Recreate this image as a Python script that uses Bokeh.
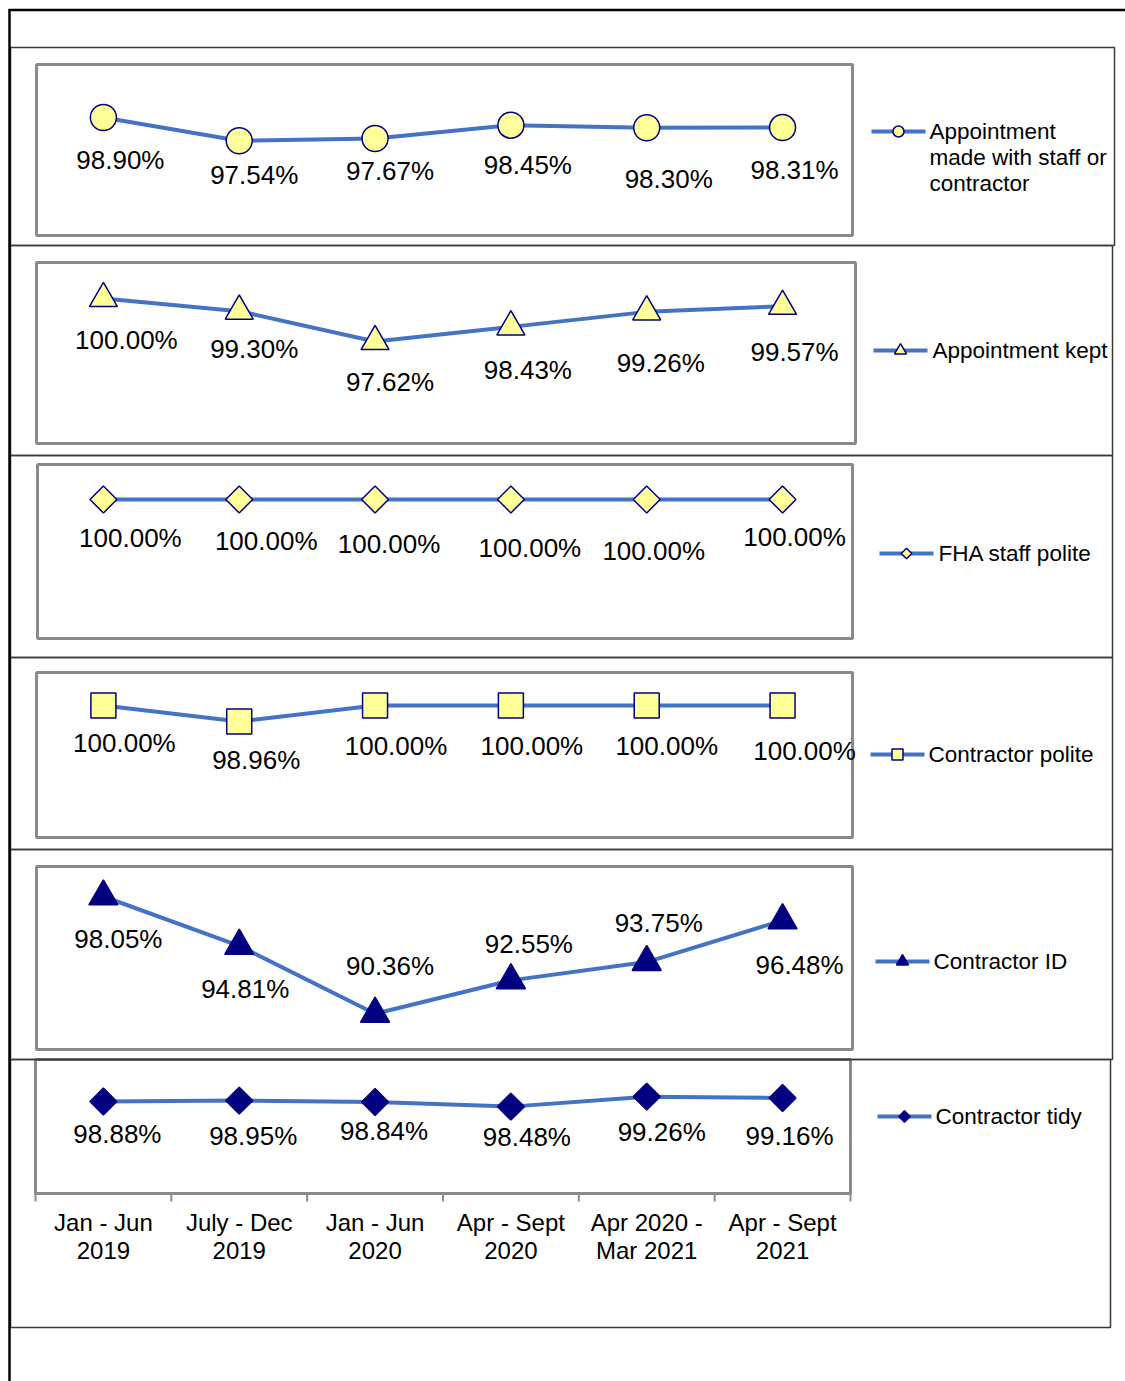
import math
from bokeh.plotting import figure
from bokeh.models import Range1d
from bokeh.embed import file_html
from bokeh.resources import INLINE
from bokeh.core.properties import value

# ---------------- data ----------------
CATEGORIES = ["Jan - Jun\n2019", "July - Dec\n2019", "Jan - Jun\n2020",
              "Apr - Sept\n2020", "Apr 2020 -\nMar 2021", "Apr - Sept\n2021"]

APPOINTMENT_MADE = [98.90, 97.54, 97.67, 98.45, 98.30, 98.31]
APPOINTMENT_KEPT = [100.00, 99.30, 97.62, 98.43, 99.26, 99.57]
FHA_STAFF_POLITE = [100.00, 100.00, 100.00, 100.00, 100.00, 100.00]
CONTRACTOR_POLITE = [100.00, 98.96, 100.00, 100.00, 100.00, 100.00]
CONTRACTOR_ID = [98.05, 94.81, 90.36, 92.55, 93.75, 96.48]
CONTRACTOR_TIDY = [98.88, 98.95, 98.84, 98.48, 99.26, 99.16]

SERIES_NAMES = ["Appointment made with staff or contractor", "Appointment kept",
                "FHA staff polite", "Contractor polite", "Contractor ID", "Contractor tidy"]

# ---------------- styles / layout ----------------
FONT = value("Liberation Sans")
BLUE = "#4472C4"
NAVY = "#000080"
YELLOW = "#FFFF99"
BOX_GREY = "#8a8a8a"
FRAME = "#3a3a3a"

PAGE_L, PAGE_R, PAGE_T, PAGE_B = 0, 1125, 0, 1381
W, H = PAGE_R - PAGE_L, PAGE_B - PAGE_T

CAT_X0 = 102.9      # pixel centre of first category
CAT_DX = 135.83     # pixel spacing of categories

PANELS = [
    dict(values=APPOINTMENT_MADE, legend_lines=["Appointment", "made with staff or", "contractor"],
         marker="circle", size=26, angle=0, fill=YELLOW, lsize=11, langle=0,
         calib=(98.90, 117, 17.1), chart=(10, 1114, 47, 245), box=(36, 852, 64, 235),
         leg=(871, 131, 929),
         dx=[17, 15, 15, 17, 22, 12], dy=[42, 34, 32, 40, 51, 42]),
    dict(values=APPOINTMENT_KEPT, legend_lines=["Appointment kept"],
         marker="triangle", size=28, angle=0, fill=YELLOW, lsize=12, langle=0,
         calib=(100.0, 298, 18.07), chart=(10, 1112, 245, 455), box=(36, 855, 262, 443),
         leg=(873, 350, 932),
         dx=[23, 15, 15, 17, 14, 12], dy=[41, 38, 40, 43, 51, 46]),
    dict(values=FHA_STAFF_POLITE, legend_lines=["FHA staff polite"],
         marker="square", size=19, angle=math.pi / 4, fill=YELLOW, lsize=7.5, langle=math.pi / 4,
         calib=(100.0, 499, 15.0), chart=(10, 1112, 455, 657), box=(37, 852, 464, 638),
         leg=(879, 553, 938),
         dx=[27, 27, 14, 19, 7, 12], dy=[38, 41, 44, 48, 51, 37]),
    dict(values=CONTRACTOR_POLITE, legend_lines=["Contractor polite"],
         marker="square", size=25, angle=0, fill=YELLOW, lsize=11, langle=0,
         calib=(100.0, 705, 15.4), chart=(10, 1112, 657, 849), box=(36, 852, 672, 837),
         leg=(870, 754, 928),
         dx=[21, 17, 21, 21, 20, 22], dy=[37, 38, 40, 40, 40, 45]),
    dict(values=CONTRACTOR_ID, legend_lines=["Contractor ID"],
         marker="triangle", size=29, angle=0, fill=NAVY, lsize=12, langle=0,
         calib=(98.05, 896, 15.25), chart=(10, 1112, 849, 1059), box=(36, 852, 866, 1049),
         leg=(875, 961, 933),
         dx=[15, 6, 15, 18, 12, 17], dy=[42, 43, -48, -36, -39, 45]),
    dict(values=CONTRACTOR_TIDY, legend_lines=["Contractor tidy"],
         marker="square", size=19, angle=math.pi / 4, fill=NAVY, lsize=8, langle=math.pi / 4,
         calib=(98.88, 1101, 12.8), chart=(10, 1110, 1059, 1327), box=(35, 850, 1059, 1193),
         leg=(877, 1116, 935),
         dx=[14, 14, 9, 16, 15, 7], dy=[32, 35, 29, 30, 35, 38]),
]

# ---------------- figure ----------------
p = figure(width=W, height=H, x_range=Range1d(PAGE_L, PAGE_R), y_range=Range1d(PAGE_B, PAGE_T),
           output_backend="svg", toolbar_location=None, x_axis_type=None, y_axis_type=None,
           min_border=0, outline_line_color=None, title=None)
p.background_fill_color = "white"
p.border_fill_color = "white"

p.extra_x_ranges = {"cat": Range1d((PAGE_L - CAT_X0) / CAT_DX, (PAGE_R - CAT_X0) / CAT_DX)}
for j, pan in enumerate(PANELS):
    v0, y0, k = pan["calib"]
    p.extra_y_ranges[f"p{j}"] = Range1d(v0 - (PAGE_B - y0) / k, v0 + (y0 - PAGE_T) / k)

idx = list(range(len(CATEGORIES)))

# plot-area boxes (grey)
p.quad(left=[pan["box"][0] for pan in PANELS], right=[pan["box"][1] for pan in PANELS],
       top=[pan["box"][2] for pan in PANELS], bottom=[pan["box"][3] for pan in PANELS],
       fill_color=None, line_color=BOX_GREY, line_width=3)

# chart object boxes (thin dark)
p.quad(left=[pan["chart"][0] for pan in PANELS], right=[pan["chart"][1] for pan in PANELS],
       top=[pan["chart"][2] for pan in PANELS], bottom=[pan["chart"][3] for pan in PANELS],
       fill_color=None, line_color=FRAME, line_width=1.5)

# outer page frame
p.segment(x0=[8, 9], y0=[9.5, 9], x1=[1125, 9], y1=[9.5, 1381], line_color="black", line_width=2.5)

# category axis ticks (between categories) and labels
bounds = [i - 0.5 for i in range(len(CATEGORIES) + 1)]
p.segment(x0=bounds, y0=[1193] * len(bounds), x1=bounds, y1=[1201] * len(bounds),
          x_range_name="cat", line_color=BOX_GREY, line_width=2)
line1 = [c.split("\n")[0] for c in CATEGORIES]
line2 = [c.split("\n")[1] for c in CATEGORIES]
p.text(x=idx, y=[1221.5] * len(idx), text=line1, x_range_name="cat", text_align="center",
       text_baseline="middle", text_font=FONT, text_font_size="24px", text_color="black")
p.text(x=idx, y=[1249.5] * len(idx), text=line2, x_range_name="cat", text_align="center",
       text_baseline="middle", text_font=FONT, text_font_size="24px", text_color="black")

# series
for j, pan in enumerate(PANELS):
    yr = f"p{j}"
    vals = pan["values"]
    p.line(x=idx, y=vals, x_range_name="cat", y_range_name=yr, line_color=BLUE, line_width=4)
    p.scatter(x=idx, y=vals, x_range_name="cat", y_range_name=yr, marker=pan["marker"],
              size=pan["size"], angle=pan["angle"], fill_color=pan["fill"], line_color=NAVY,
              line_width=1.5)
    p.text(x=idx, y=vals, text=[f"{v:.2f}%" for v in vals], x_offset=pan["dx"], y_offset=pan["dy"],
           x_range_name="cat", y_range_name=yr, text_align="center", text_baseline="middle",
           text_font=FONT, text_font_size="26px", text_color="black")

    # legend key
    lx, ly, tx = pan["leg"]
    p.segment(x0=[lx], y0=[ly], x1=[lx + 54], y1=[ly], line_color=BLUE, line_width=4)
    p.scatter(x=[lx + 27], y=[ly], marker=pan["marker"], size=pan["lsize"], angle=pan["langle"],
              fill_color=pan["fill"], line_color=NAVY, line_width=1.5)
    lines = pan["legend_lines"]
    p.text(x=[tx] * len(lines), y=[ly + 26 * i for i in range(len(lines))], text=lines,
           text_align="left", text_baseline="middle", text_font=FONT, text_font_size="22.5px",
           text_color="black")

open("out.html", "w").write(file_html(p, INLINE))
